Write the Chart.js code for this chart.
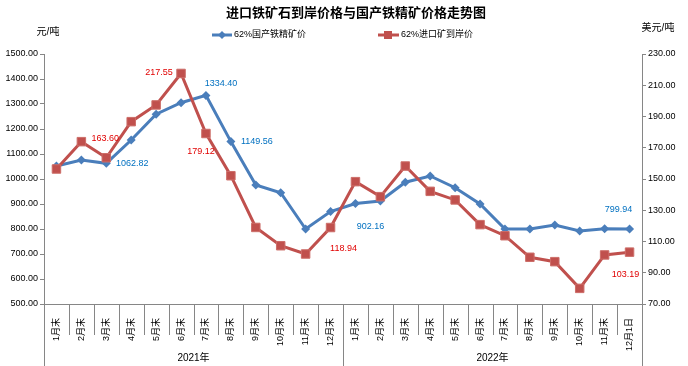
<!DOCTYPE html>
<html>
<head>
<meta charset="utf-8">
<script src="https://cdn.jsdelivr.net/npm/chart.js@4.4.1/dist/chart.umd.min.js"></script>
<style>
  body { margin: 0; background: #fff; }
</style>
</head>
<body>
<canvas id="priceChart" width="688" height="366"></canvas>
<script>
// 数据
const months = ['1月末', '2月末', '3月末', '4月末', '5月末', '6月末', '7月末', '8月末', '9月末', '10月末', '11月末', '12月末',
                '1月末', '2月末', '3月末', '4月末', '5月末', '6月末', '7月末', '8月末', '9月末', '10月末', '11月末', '12月1日'];
const years = ['2021年', '2022年'];
const domestic = [1052, 1076, 1062.82, 1156, 1259, 1305, 1334.40, 1149.56, 976, 945, 800, 870,
                  902.16, 912, 987, 1012, 965, 900, 800, 800, 816, 792, 801, 799.94];
const imported = [156.4, 173.9, 163.60, 186.7, 197.4, 217.55, 179.12, 152.1, 119, 107.3, 102, 118.94,
                  148.3, 138.7, 158.3, 142.1, 136.6, 120.8, 113.7, 99.9, 97.1, 80, 101.4, 103.19];
const domesticLabeled = [2, 6, 7, 12, 23];
const importedLabeled = [2, 5, 6, 11, 23];

const FONT = '"Liberation Sans", "Noto Sans CJK SC", sans-serif';
const BLUE = 'rgb(74,126,187)';
const RED = 'rgb(192,80,77)';
const AXIS = '#868686';

// 数据标签的位置偏移
const labelOffsets = {
    0: { 2: [26, 0], 6: [15, -12], 7: [26, 0], 12: [15, 23], 23: [-11, -19] },
    1: { 2: [-1, -19], 5: [-22, -1], 6: [-5, 18], 11: [13, 21], 23: [-4, 22] }
};

const decorPlugin = {
    id: 'decor',
    afterDatasetsDraw(chart) {
        const ctx = chart.ctx;
        ctx.save();
        ctx.font = '9px ' + FONT;
        ctx.textAlign = 'center';
        ctx.textBaseline = 'middle';
        [[0, domesticLabeled, domestic, 'rgb(0,112,192)'], [1, importedLabeled, imported, 'rgb(225,0,0)']].forEach(([di, idx, vals, col]) => {
            const meta = chart.getDatasetMeta(di);
            ctx.fillStyle = col;
            idx.forEach(i => {
                const pt = meta.data[i];
                const off = labelOffsets[di][i];
                ctx.fillText(vals[i].toFixed(2), pt.x + off[0], pt.y + off[1]);
            });
        });
        ctx.restore();
    },
    afterDraw(chart) {
        const ctx = chart.ctx;
        const area = chart.chartArea;
        const xs = chart.scales.x;
        ctx.save();

        // 标题
        ctx.fillStyle = '#000';
        ctx.textAlign = 'center';
        ctx.textBaseline = 'middle';
        ctx.font = 'bold 13px ' + FONT;
        ctx.fillText('进口铁矿石到岸价格与国产铁精矿价格走势图', 356, 13);

        // 单位
        ctx.font = '10px ' + FONT;
        ctx.fillText('元/吨', 48, 32);
        ctx.fillText('美元/吨', 658, 28);

        // 图例
        ctx.font = '9px ' + FONT;
        ctx.textAlign = 'left';
        ctx.lineWidth = 3;
        ctx.strokeStyle = BLUE;
        ctx.beginPath(); ctx.moveTo(212, 35); ctx.lineTo(232, 35); ctx.stroke();
        ctx.fillStyle = BLUE;
        ctx.beginPath(); ctx.moveTo(222, 31); ctx.lineTo(226, 35); ctx.lineTo(222, 39); ctx.lineTo(218, 35); ctx.closePath(); ctx.fill();
        ctx.fillStyle = '#000';
        ctx.fillText('62%国产铁精矿价', 234, 35);
        ctx.strokeStyle = RED;
        ctx.beginPath(); ctx.moveTo(378, 35); ctx.lineTo(399, 35); ctx.stroke();
        ctx.fillStyle = RED;
        ctx.fillRect(384, 31, 8, 8);
        ctx.fillStyle = '#000';
        ctx.fillText('62%进口矿到岸价', 401, 35);

        // 分类分隔线
        ctx.strokeStyle = AXIS;
        ctx.lineWidth = 1;
        const n = months.length;
        for (let i = 0; i <= n; i++) {
            let x;
            if (i === 0) x = area.left;
            else if (i === n) x = area.right;
            else x = (xs.getPixelForValue(i - 1) + xs.getPixelForValue(i)) / 2;
            x = Math.round(x) + 0.5;
            const yEnd = (i % 12 === 0) ? chart.height : area.bottom + 31;
            ctx.beginPath(); ctx.moveTo(x, area.bottom); ctx.lineTo(x, yEnd); ctx.stroke();
        }

        // 年份
        ctx.fillStyle = '#000';
        ctx.font = '10px ' + FONT;
        ctx.textAlign = 'center';
        years.forEach((yr, k) => {
            const x0 = xs.getPixelForValue(k * 12);
            const x1 = xs.getPixelForValue(k * 12 + 11);
            ctx.fillText(yr, (x0 + x1) / 2, 358);
        });
        ctx.restore();
    }
};

const ctx = document.getElementById('priceChart').getContext('2d');
new Chart(ctx, {
    type: 'line',
    data: {
        labels: months,
        datasets: [{
            label: '62%国产铁精矿价',
            data: domestic,
            yAxisID: 'y',
            borderColor: BLUE,
            backgroundColor: BLUE,
            borderWidth: 3,
            pointStyle: 'rectRot',
            pointRadius: 4.5,
            pointBorderWidth: 0,
            tension: 0,
            order: 1
        }, {
            label: '62%进口矿到岸价',
            data: imported,
            yAxisID: 'y1',
            borderColor: RED,
            backgroundColor: RED,
            borderWidth: 3,
            pointStyle: 'rect',
            pointRadius: 6,
            pointBorderWidth: 1,
            pointBorderColor: 'rgb(205,110,105)',
            tension: 0,
            order: 0
        }]
    },
    options: {
        responsive: false,
        animation: false,
        layout: { padding: { top: 54, left: 0, right: 0, bottom: 0 } },
        plugins: {
            legend: { display: false },
            title: { display: false },
            tooltip: { enabled: false }
        },
        scales: {
            x: {
                type: 'category',
                offset: true,
                grid: { display: false },
                border: { display: true, color: AXIS, width: 1 },
                ticks: {
                    autoSkip: false,
                    minRotation: 90,
                    maxRotation: 90,
                    padding: 6,
                    color: '#000',
                    font: { size: 9, family: FONT }
                },
                afterFit: s => { s.height = 62; }
            },
            y: {
                position: 'left',
                min: 500,
                max: 1500,
                grid: { drawOnChartArea: false, drawTicks: true, tickLength: 4, color: AXIS },
                border: { display: true, color: AXIS, width: 1 },
                ticks: {
                    stepSize: 100,
                    padding: 2,
                    color: '#000',
                    font: { size: 9, family: FONT },
                    callback: v => v.toFixed(2)
                },
                afterFit: s => { s.width = 44; }
            },
            y1: {
                position: 'right',
                min: 70,
                max: 230,
                grid: { drawOnChartArea: false, drawTicks: true, tickLength: 4, color: AXIS },
                border: { display: true, color: AXIS, width: 1 },
                ticks: {
                    stepSize: 20,
                    padding: 2,
                    color: '#000',
                    font: { size: 9, family: FONT },
                    callback: v => v.toFixed(2)
                },
                afterFit: s => { s.width = 46; }
            }
        }
    },
    plugins: [decorPlugin]
});
</script>
</body>
</html>
